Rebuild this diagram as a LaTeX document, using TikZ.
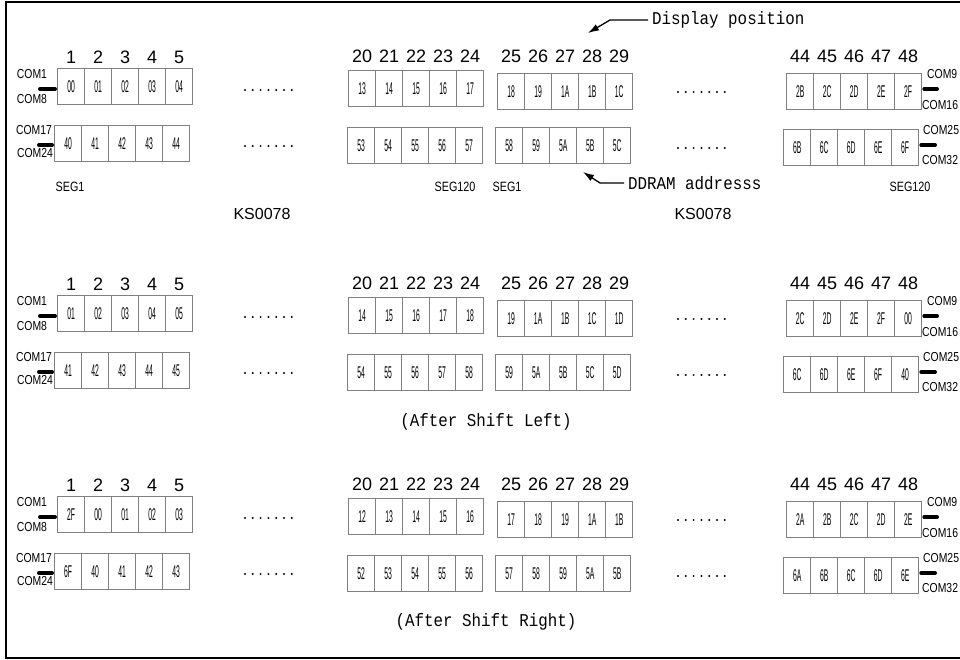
\documentclass[tikz,border=0pt]{standalone}
\usepackage{fontspec}
\setmainfont{Liberation Sans}
\newfontfamily\narrowsans[FakeStretch=0.8]{Liberation Sans}
\newfontfamily\cellsans[FakeStretch=0.4]{Liberation Sans}
\newfontfamily\screenmono[FakeStretch=0.88]{Liberation Mono}
\usetikzlibrary{arrows.meta,positioning,calc}
\tikzset{
  cell/.style={draw=black!50, line width=1.3pt, minimum width=27pt,
    minimum height=36pt, inner sep=0pt, anchor=north west,
    font=\cellsans\fontsize{17}{17}\selectfont},
  colnum/.style={inner sep=0pt, font=\fontsize{18}{18}\selectfont},
  comtxt/.style={inner sep=0pt, font=\narrowsans\fontsize{13}{13}\selectfont},
  segtxt/.style={inner sep=0pt, font=\narrowsans\fontsize{13.5}{13.5}\selectfont},
  chiptxt/.style={inner sep=0pt, font=\fontsize{16}{16}\selectfont},
  monotxt/.style={inner sep=0pt, font=\screenmono\fontsize{18}{18}\selectfont},
  stub/.style={line width=4pt, line cap=round, shorten >=2pt},
  pointer/.style={-{Latex[length=11pt,width=7pt]}, line width=1.3pt},
  frame/.style={line width=1.6pt}
}
\newcommand{\cellrow}[4]{%
  \foreach \val [count=\i] in {#4}
    \node[cell] (#1\i) at ({#2+(\i-1)*27},#3) {\val};}
\newcommand{\dotrun}[2]{%
  \foreach \k in {0,...,6} \fill ({#1+\k*7.8},#2) circle (1.1);}
\newcommand{\ramrows}[9]{%
  % row 1 (COM1-8 / COM9-16)
  \cellrow{#1a}{57}{68}{#2}
  \cellrow{#1b}{348}{70}{#3}
  \cellrow{#1c}{497}{73}{#4}
  \cellrow{#1d}{786}{73}{#5}
  % row 2 (COM17-24 / COM25-32)
  \cellrow{#1e}{54}{125}{#6}
  \cellrow{#1f}{347}{127}{#7}
  \cellrow{#1g}{495}{127}{#8}
  \cellrow{#1h}{783}{129}{#9}
  % display positions
  \foreach \n [count=\i] in {1,...,5}
    \node[colnum] (#1na\i) at (#1a\i.center |- 0,57) {\n};
  \foreach \n [count=\i] in {20,...,24}
    \node[colnum] (#1nb\i) at (#1b\i.center |- 0,56) {\n};
  \foreach \n [count=\i] in {25,...,29}
    \node[colnum] (#1nc\i) at (#1c\i.center |- 0,56) {\n};
  \foreach \n [count=\i] in {44,...,48}
    \node[colnum] (#1nd\i) at (#1d\i.center |- 0,56) {\n};
  % common lines
  \node[comtxt] (#1com1) at (32,74) {COM1};
  \node[comtxt] (#1com8) at (32,99) {COM8};
  \node[comtxt] (#1com17) at (34,130) {COM17};
  \node[comtxt] (#1com24) at (35,153) {COM24};
  \node[comtxt,anchor=west] (#1com9) at (927,74) {COM9};
  \node[comtxt,anchor=west] (#1com16) at (922,105) {COM16};
  \node[comtxt,anchor=west] (#1com25) at (923,130) {COM25};
  \node[comtxt,anchor=west] (#1com32) at (922,160) {COM32};
  \coordinate (#1ls1) at (40,89);
  \coordinate (#1ls2) at (39,145);
  \coordinate (#1rs1) at (937,89);
  \coordinate (#1rs2) at (935,145);
  \draw[stub] (#1ls1) -- (#1ls1 -| #1a1.west);
  \draw[stub] (#1ls2) -- (#1ls2 -| #1e1.west);
  \draw[stub] (#1rs1) -- (#1rs1 -| #1d5.east);
  \draw[stub] (#1rs2) -- (#1rs2 -| #1h5.east);
  \dotrun{245}{90} \dotrun{245}{146}
  \dotrun{678}{92} \dotrun{678}{148}
}

\begin{document}
\begin{tikzpicture}[x=1pt, y=-1pt]
  \useasboundingbox (0,0) rectangle (960,660);
  \draw[frame] (6,2) rectangle (985,658);

  % before shift
  \ramrows{s}{00,01,02,03,04}{13,14,15,16,17}{18,19,1A,1B,1C}{2B,2C,2D,2E,2F}
    {40,41,42,43,44}{53,54,55,56,57}{58,59,5A,5B,5C}{6B,6C,6D,6E,6F}
  \node[segtxt] (seg1a) at (70,187) {SEG1};
  \node[segtxt] (seg120a) at (455,187) {SEG120};
  \node[segtxt] (seg1b) at (507,187) {SEG1};
  \node[segtxt] (seg120b) at (910,187) {SEG120};
  \node[chiptxt] (chipa) at (262,214) {KS0078};
  \node[chiptxt] (chipb) at (703,214) {KS0078};
  \node[monotxt,anchor=west,inner xsep=4pt] (disppos) at (648,20) {Display position};
  \coordinate (dpbend) at (610,20);
  \coordinate (dptip) at (588,33);
  \draw[pointer] (disppos.west) -- (dpbend) -- (dptip);
  \node[monotxt,anchor=west,inner xsep=4pt] (ddram) at (624,183) {DDRAM addresss};
  \coordinate (ddbend) at (600,183);
  \coordinate (ddtip) at (583,172);
  \draw[pointer] (ddram.west) -- (ddbend) -- (ddtip);

  % after shift left
  \begin{scope}[shift={(0,227)}]
    \ramrows{l}{01,02,03,04,05}{14,15,16,17,18}{19,1A,1B,1C,1D}{2C,2D,2E,2F,00}
      {41,42,43,44,45}{54,55,56,57,58}{59,5A,5B,5C,5D}{6C,6D,6E,6F,40}
  \end{scope}
  \node[monotxt] (leftcap) at (486,422) {(After Shift Left)};

  % after shift right
  \begin{scope}[shift={(0,428)}]
    \ramrows{r}{2F,00,01,02,03}{12,13,14,15,16}{17,18,19,1A,1B}{2A,2B,2C,2D,2E}
      {6F,40,41,42,43}{52,53,54,55,56}{57,58,59,5A,5B}{6A,6B,6C,6D,6E}
  \end{scope}
  \node[monotxt] (rightcap) at (486,622) {(After Shift Right)};
\end{tikzpicture}
\end{document}
